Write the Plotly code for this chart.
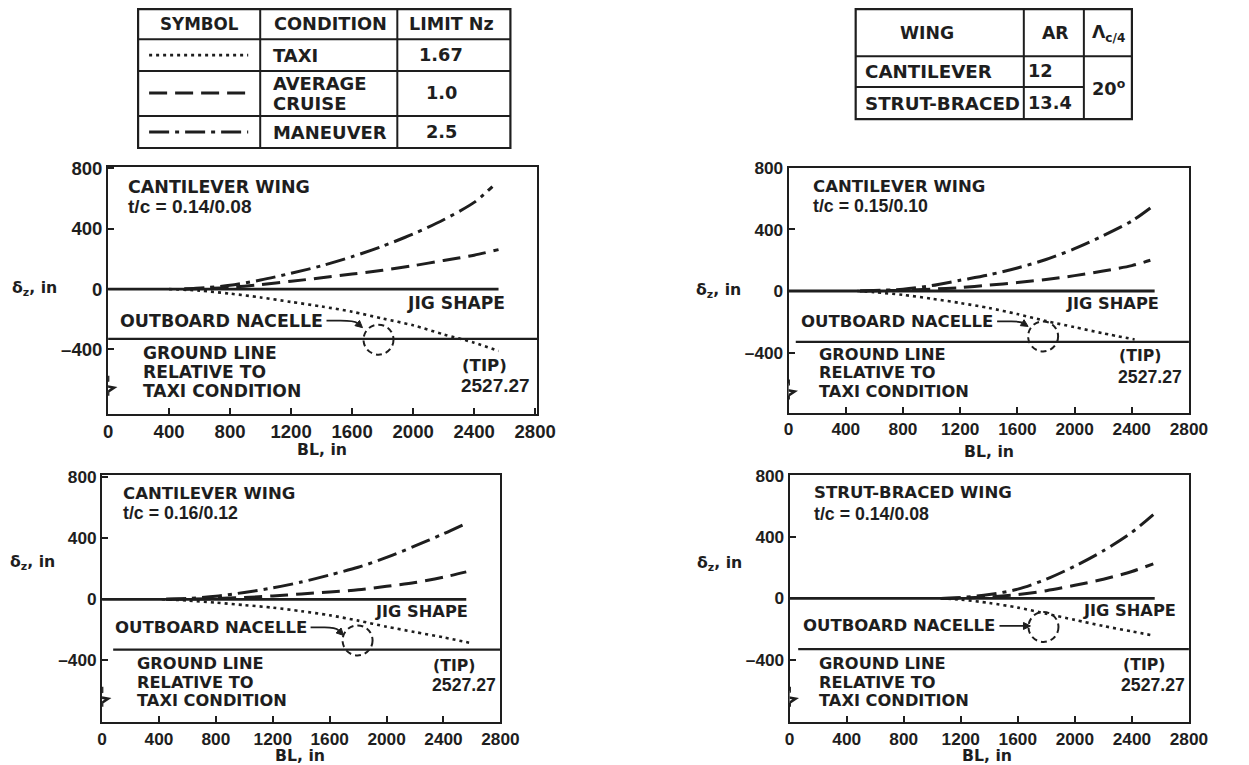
import math
import plotly.graph_objects as go

W, H = 1249, 765
INK = "#1e1e1e"
FONT = "DejaVu Sans"
NUMFONT = "Liberation Sans"

# ---------------- deflection data: BL stations (in) and δz (in) ----------------
# panel 1: cantilever wing, t/c = 0.14/0.08
p1_taxi_bl = [400, 600, 800, 1000, 1200, 1400, 1600, 1800, 2000, 2200, 2400, 2560]
p1_taxi_dz = [0, -10, -30, -55, -85, -115, -150, -195, -240, -300, -355, -410]
p1_cruise_bl = [500, 800, 1000, 1200, 1400, 1600, 1800, 2000, 2200, 2400, 2560]
p1_cruise_dz = [0, 12, 30, 52, 75, 100, 125, 155, 190, 225, 262]
p1_man_bl = [500, 650, 800, 1000, 1200, 1400, 1600, 1800, 2000, 2200, 2400, 2520]
p1_man_dz = [0, 10, 25, 60, 105, 155, 215, 285, 365, 460, 575, 680]

# panel 2: cantilever wing, t/c = 0.15/0.10
p2_taxi_bl = [480, 600, 800, 1000, 1200, 1400, 1600, 1800, 2000, 2200, 2420]
p2_taxi_dz = [0, -8, -25, -50, -78, -110, -150, -195, -235, -275, -315]
p2_cruise_bl = [500, 800, 1000, 1200, 1400, 1600, 1800, 2000, 2200, 2400, 2530]
p2_cruise_dz = [0, 5, 12, 22, 38, 55, 75, 100, 130, 165, 200]
p2_man_bl = [500, 800, 1000, 1200, 1400, 1600, 1800, 2000, 2200, 2400, 2530]
p2_man_dz = [0, 12, 35, 70, 105, 150, 205, 275, 360, 455, 540]

# panel 3: cantilever wing, t/c = 0.16/0.12
p3_taxi_bl = [420, 600, 800, 1000, 1200, 1400, 1600, 1800, 2000, 2200, 2400, 2580]
p3_taxi_dz = [0, -8, -22, -38, -55, -78, -105, -140, -180, -215, -250, -285]
p3_cruise_bl = [450, 800, 1000, 1200, 1400, 1600, 1800, 2000, 2200, 2400, 2560]
p3_cruise_dz = [0, 5, 12, 22, 35, 48, 62, 85, 110, 145, 180]
p3_man_bl = [450, 600, 800, 1000, 1200, 1400, 1600, 1800, 2000, 2200, 2400, 2540]
p3_man_dz = [0, 5, 20, 45, 75, 113, 160, 210, 275, 350, 430, 490]

# panel 4: strut-braced wing, t/c = 0.14/0.08
p4_taxi_bl = [1060, 1200, 1400, 1600, 1800, 2000, 2200, 2400, 2540]
p4_taxi_dz = [0, -8, -30, -60, -100, -140, -180, -215, -240]
p4_cruise_bl = [1060, 1200, 1400, 1600, 1800, 2000, 2200, 2400, 2550]
p4_cruise_dz = [0, 2, 10, 25, 50, 85, 125, 175, 225]
p4_man_bl = [1060, 1200, 1400, 1600, 1800, 2000, 2200, 2400, 2550]
p4_man_dz = [0, 5, 25, 60, 125, 210, 310, 430, 545]

# reference lines
jig_bl = [0, 2560]
jig_dz = [0, 0]
ground_dz = -330
tip_bl = 2527.27

# outboard nacelle position (BL, δz) per panel
nacelle_bl = [1773, 1780, 1796, 1780]
nacelle_dz = [-335, -295, -270, -186]

# axis ticks
bl_ticks = [0, 400, 800, 1200, 1600, 2000, 2400, 2800]
dz_ticks = [-400, 0, 400, 800]
dz_ticktext = ["\u2013400", "0", "400", "800"]

# table contents
cond_names = [["TAXI"], ["AVERAGE", "CRUISE"], ["MANEUVER"]]
limit_nz = ["1.67", "1.0", "2.5"]
wing_names = ["CANTILEVER", "STRUT-BRACED"]
wing_ar = ["12", "13.4"]
sweep = "20<sup>o</sup>"

panel_titles = [("CANTILEVER WING", "t/c = 0.14/0.08"),
                ("CANTILEVER WING", "t/c = 0.15/0.10"),
                ("CANTILEVER WING", "t/c = 0.16/0.12"),
                ("STRUT-BRACED WING", "t/c = 0.14/0.08")]
ground_text = ["GROUND LINE", "RELATIVE TO", "TAXI CONDITION"]

series = [
    (p1_taxi_bl, p1_taxi_dz, p1_cruise_bl, p1_cruise_dz, p1_man_bl, p1_man_dz),
    (p2_taxi_bl, p2_taxi_dz, p2_cruise_bl, p2_cruise_dz, p2_man_bl, p2_man_dz),
    (p3_taxi_bl, p3_taxi_dz, p3_cruise_bl, p3_cruise_dz, p3_man_bl, p3_man_dz),
    (p4_taxi_bl, p4_taxi_dz, p4_cruise_bl, p4_cruise_dz, p4_man_bl, p4_man_dz),
]

# ---------------- layout geometry (page pixels) ----------------
panels = [
    dict(px=(108, 537), py=(166, 413), xr=[0, 2815], yr=[-825, 810], ground_x0=0,
         txt_end=(-56, 19), tip=(-16, 12), lab=17.2, num=18.3,
         title=(128, (186, 206)), jig=(505, 302), gl=(143, (352, 371, 390)),
         tipl=((462, 365), (461, 385)), ylab=(34, 288), xlab=(322, 449)),
    dict(px=(788, 1188), py=(167, 412), xr=[0, 2800], yr=[-790, 800], ground_x0=50,
         txt_end=(-50, 15), tip=(-15, 10), lab=16.3, num=17,
         title=(812, (186, 205)), jig=(1158, 303), gl=(818, (354, 372, 391)),
         tipl=((1118, 355), (1117, 376)), ylab=(718, 290), xlab=(988, 451)),
    dict(px=(102, 500), py=(475, 722), xr=[0, 2800], yr=[-806, 813], ground_x0=78,
         txt_end=(-51, 13), tip=(-14, 5), lab=16.3, num=17,
         title=(123, (493, 513)), jig=(468, 611), gl=(137, (663, 682, 700)),
         tipl=((433, 665), (432, 685)), ylab=(32, 562), xlab=(300, 755)),
    dict(px=(789, 1188), py=(475, 722), xr=[0, 2800], yr=[-805, 800], ground_x0=60,
         txt_end=(-48, 1), tip=(-13, 1), lab=16.3, num=17,
         title=(813, (492, 514)), jig=(1175, 610), gl=(818, (663, 682, 700)),
         tipl=((1122, 664), (1120, 685)), ylab=(719, 563), xlab=(986, 755)),
]

# placement of the figure canvas on the page (default body margin + page fit)
SX, OX = 0.9800, 5.0
SY, OY = 0.9885, 8.8
FS = 1.015

DASH_TAXI = "3px,4px"
DASH_CRUISE = "18px,8px"
DASH_MAN = "20px,6px,4px,6px"


def fx(x):
    return ((x - OX) / SX) / W


def fy(y):
    return 1 - ((y - OY) / SY) / H


def tfont(size=16, family=FONT):
    return dict(family=family, size=size * FS, color=INK, weight="bold")


annotations = []
shapes = []


def label(text, x, y, anchor="left", size=16.3, family=FONT):
    shift = -2 if anchor == "left" else (2 if anchor == "right" else 0)
    annotations.append(dict(xref="paper", yref="paper", x=fx(x), y=fy(y), xshift=shift,
                            xanchor=anchor, yanchor="middle", showarrow=False,
                            text=text, font=tfont(size, family)))


fig = go.Figure()

for i, (p, s) in enumerate(zip(panels, series)):
    n = "" if i == 0 else str(i + 1)
    xa, ya = "x" + n, "y" + n
    taxi_bl, taxi_dz, cr_bl, cr_dz, mn_bl, mn_dz = s
    lab, num = p["lab"], p["num"]

    # jig shape and ground line
    fig.add_trace(go.Scatter(x=jig_bl, y=jig_dz, mode="lines", xaxis=xa, yaxis=ya,
                             line=dict(color=INK, width=2.8), showlegend=False,
                             hoverinfo="skip"))
    fig.add_trace(go.Scatter(x=[p["ground_x0"], p["xr"][1]], y=[ground_dz, ground_dz],
                             mode="lines", xaxis=xa, yaxis=ya,
                             line=dict(color=INK, width=2.2), showlegend=False,
                             hoverinfo="skip"))
    # deflection curves
    for bl, dz, dash, wd in ((taxi_bl, taxi_dz, DASH_TAXI, 2.6),
                             (cr_bl, cr_dz, DASH_CRUISE, 3),
                             (mn_bl, mn_dz, DASH_MAN, 3)):
        fig.add_trace(go.Scatter(x=bl, y=dz, mode="lines", xaxis=xa, yaxis=ya,
                                 line=dict(color=INK, width=wd, dash=dash,
                                           shape="spline", smoothing=0.8),
                                 showlegend=False))

    axis_common = dict(showline=True, linewidth=2, linecolor=INK, mirror=True,
                       ticks="inside", ticklen=6, tickwidth=2, tickcolor=INK,
                       showgrid=False, zeroline=False,
                       tickfont=tfont(num, NUMFONT), fixedrange=True)
    fig.layout["xaxis" + n] = dict(domain=[fx(p["px"][0]), fx(p["px"][1])],
                                   range=p["xr"], anchor=ya, tickvals=bl_ticks,
                                   **axis_common)
    fig.layout["yaxis" + n] = dict(domain=[fy(p["py"][1]), fy(p["py"][0])],
                                   range=p["yr"], anchor=xa, tickvals=dz_ticks,
                                   ticktext=dz_ticktext, **axis_common)

    # axis break on the δz axis
    shapes.append(dict(type="rect", xref=xa, yref=ya, xsizemode="pixel", ysizemode="pixel",
                       xanchor=0, yanchor=-640, x0=-3, x1=3, y0=-6, y1=6,
                       fillcolor="white", line=dict(width=0), layer="above"))
    shapes.append(dict(type="path", xref=xa, yref=ya, xsizemode="pixel", ysizemode="pixel",
                       xanchor=0, yanchor=-640,
                       path="M0,10 L0,5 L-10,1 L6,-2 L0,-6 L0,-10",
                       line=dict(color=INK, width=2.6), layer="above"))

    # outboard nacelle outline and pointer
    cx, cy = nacelle_bl[i], nacelle_dz[i]
    shapes.append(dict(type="circle", xref=xa, yref=ya, xsizemode="pixel", ysizemode="pixel",
                       xanchor=cx, yanchor=cy, x0=-15, x1=15, y0=-15, y1=15,
                       line=dict(color=INK, width=2, dash="6px,4px")))
    tx, ty = p["txt_end"]
    tpx, tpy = p["tip"]
    ctl_x, ctl_y = tpx - 8, ty
    ln = math.hypot(tpx - ctl_x, tpy - ctl_y)
    ux, uy = (tpx - ctl_x) / ln, (tpy - ctl_y) / ln
    bx, by = tpx - 7 * ux, tpy - 7 * uy
    nx, ny = -uy, ux
    shapes.append(dict(type="path", xref=xa, yref=ya, xsizemode="pixel", ysizemode="pixel",
                       xanchor=cx, yanchor=cy,
                       path=f"M{tx + 4},{ty} L{tx + 18},{ty} Q{ctl_x},{ctl_y} {bx:.2f},{by:.2f}",
                       line=dict(color=INK, width=1.8)))
    shapes.append(dict(type="path", xref=xa, yref=ya, xsizemode="pixel", ysizemode="pixel",
                       xanchor=cx, yanchor=cy,
                       path=(f"M{tpx},{tpy} L{bx + 3.5 * nx:.2f},{by + 3.5 * ny:.2f} "
                             f"L{bx - 3.5 * nx:.2f},{by - 3.5 * ny:.2f} Z"),
                       fillcolor=INK, line=dict(color=INK, width=1)))
    annotations.append(dict(xref=xa, yref=ya, x=cx, y=cy, xshift=tx + 2, yshift=ty,
                            xanchor="right", yanchor="middle", showarrow=False,
                            text="OUTBOARD NACELLE", font=tfont(lab)))

    # text labels
    tx0, (ty1, ty2) = p["title"]
    label(panel_titles[i][0], tx0, ty1, size=lab)
    label(panel_titles[i][1], tx0, ty2, size=num + 0.5, family=NUMFONT)
    label("JIG SHAPE", p["jig"][0], p["jig"][1], anchor="right", size=lab - 0.3)
    gx0, gys = p["gl"]
    for line, yv in zip(ground_text, gys):
        label(line, gx0, yv, size=lab - 0.3)
    (t1x, t1y), (t2x, t2y) = p["tipl"]
    label("(TIP)", t1x, t1y, size=lab - 0.8)
    label(f"{tip_bl:.2f}", t2x, t2y, size=num + 0.4, family=NUMFONT)
    label("\u03b4<sub>z</sub>, in", p["ylab"][0], p["ylab"][1], anchor="center", size=15.5)
    label("BL, in", p["xlab"][0], p["xlab"][1], anchor="center", size=15.5)

# ---------------- symbol / condition table ----------------
tl = dict(x0=138, x1=510, y0=8, y1=147)
shapes.append(dict(type="rect", xref="paper", yref="paper", x0=fx(tl["x0"]), x1=fx(tl["x1"]),
                   y0=fy(tl["y1"]), y1=fy(tl["y0"]), line=dict(color=INK, width=2.2)))
for xv in (260, 397):
    shapes.append(dict(type="line", xref="paper", yref="paper", x0=fx(xv), x1=fx(xv),
                       y0=fy(tl["y1"]), y1=fy(tl["y0"]), line=dict(color=INK, width=2)))
for yv in (38, 70, 115):
    shapes.append(dict(type="line", xref="paper", yref="paper", x0=fx(tl["x0"]), x1=fx(tl["x1"]),
                       y0=fy(yv), y1=fy(yv), line=dict(color=INK, width=2)))
for txt, xc, sz in (("SYMBOL", 199, 16.5), ("CONDITION", 330, 17.5), ("LIMIT Nz", 451, 17.3)):
    label(txt, xc, 23, anchor="center", size=sz)
row_y = [54, 92, 131]
row_lines = [[54], [82, 102], [131]]
for names, nz, yc, ys, dash in zip(cond_names, limit_nz, row_y, row_lines,
                                   (DASH_TAXI, DASH_CRUISE, DASH_MAN)):
    shapes.append(dict(type="line", xref="paper", yref="paper", x0=fx(149), x1=fx(248),
                       y0=fy(yc), y1=fy(yc),
                       line=dict(color=INK, width=2.6 if dash == DASH_TAXI else 3, dash=dash)))
    for name, yv in zip(names, ys):
        label(name, 273, yv, size=17.7)
    label(nz, 441, yc, anchor="center", size=17.5)

# ---------------- wing geometry table ----------------
tr = dict(x0=855, x1=1131, y0=8, y1=118)
shapes.append(dict(type="rect", xref="paper", yref="paper", x0=fx(tr["x0"]), x1=fx(tr["x1"]),
                   y0=fy(tr["y1"]), y1=fy(tr["y0"]), line=dict(color=INK, width=2.2)))
for xv in (1023, 1083):
    shapes.append(dict(type="line", xref="paper", yref="paper", x0=fx(xv), x1=fx(xv),
                       y0=fy(tr["y1"]), y1=fy(tr["y0"]), line=dict(color=INK, width=2)))
shapes.append(dict(type="line", xref="paper", yref="paper", x0=fx(tr["x0"]), x1=fx(tr["x1"]),
                   y0=fy(55), y1=fy(55), line=dict(color=INK, width=2)))
shapes.append(dict(type="line", xref="paper", yref="paper", x0=fx(tr["x0"]), x1=fx(1083),
                   y0=fy(86), y1=fy(86), line=dict(color=INK, width=2)))
for txt, xc in (("WING", 926), ("AR", 1055), ("\u039b<sub>c/4</sub>", 1108)):
    label(txt, xc, 32, anchor="center", size=17)
for name, ar, yc in zip(wing_names, wing_ar, (70, 102)):
    label(name, 864, yc, size=18)
    label(ar, 1027, yc, size=17.5)
label(sweep, 1108, 86, anchor="center", size=17.5)

fig.update_layout(width=W, height=H, margin=dict(l=0, r=0, t=0, b=0),
                  paper_bgcolor="white", plot_bgcolor="white",
                  font=dict(family=FONT, color=INK),
                  shapes=shapes, annotations=annotations, showlegend=False)

fig.write_html("out.html")
